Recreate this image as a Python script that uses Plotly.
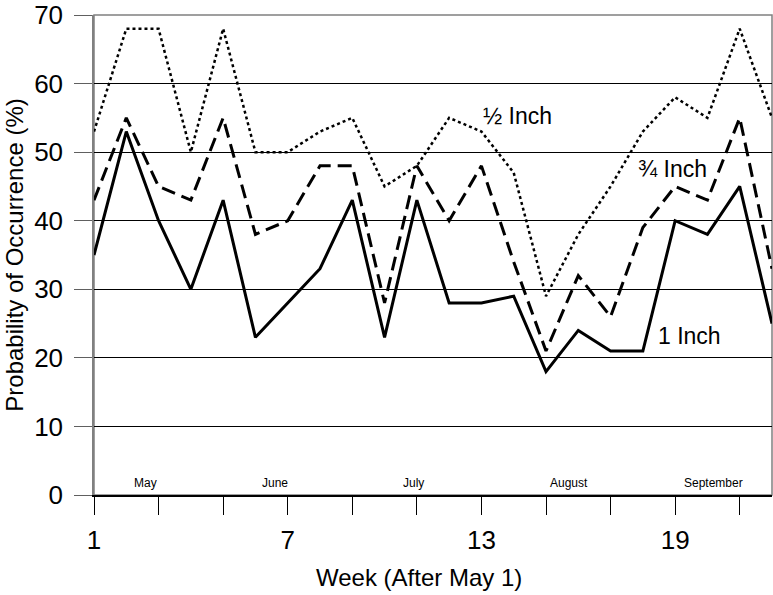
import plotly.graph_objects as go

weeks = list(range(1, 23))
one_inch = [35, 53, 40, 30, 43, 23, 28, 33, 43, 23, 43, 28, 28, 29, 18, 24, 21, 21, 40, 38, 45, 25]
three_quarter_inch = [43, 55, 45, 43, 55, 38, 40, 48, 48, 28, 48, 40, 48, 34, 21, 32, 26, 39, 45, 43, 55, 33]
half_inch = [53, 68, 68, 50, 68, 50, 50, 53, 55, 45, 48, 55, 53, 47, 29, 38, 45, 53, 58, 55, 68, 55]

tick_weeks = [1, 3, 5, 7, 9, 11, 13, 15, 17, 19, 21]
tick_labels = ["1", "", "", "7", "", "", "13", "", "", "19", ""]
y_ticks = [0, 10, 20, 30, 40, 50, 60, 70]

months = ["May", "June", "July", "August", "September"]
month_pos = [2.6, 6.6, 10.9, 15.7, 20.2]

series_labels = ["½ Inch", "¾ Inch", "1 Inch"]
label_x = [13.0, 17.8, 18.4]
label_y = [55.2, 47.6, 23.2]

FONT = "Liberation Sans, Arial, sans-serif"

fig = go.Figure()
fig.add_trace(go.Scatter(x=weeks, y=half_inch, mode="lines", name="½ Inch",
                         line=dict(color="black", width=2.5, dash="3px,3px")))
fig.add_trace(go.Scatter(x=weeks, y=three_quarter_inch, mode="lines", name="¾ Inch",
                         line=dict(color="black", width=3, dash="14px,7px")))
fig.add_trace(go.Scatter(x=weeks, y=one_inch, mode="lines", name="1 Inch",
                         line=dict(color="black", width=3)))

annotations = []
for t, x, y in zip(series_labels, label_x, label_y):
    annotations.append(dict(x=x, y=y, text=t, showarrow=False, xanchor="left", yanchor="middle",
                            font=dict(family=FONT, size=23, color="black")))
for m, x in zip(months, month_pos):
    annotations.append(dict(x=x, y=1.7, text=m, showarrow=False, xanchor="center", yanchor="middle",
                            font=dict(family="Liberation Sans Narrow, Arial Narrow, " + FONT, size=12, color="black")))
annotations.append(dict(x=0.479, y=0, xref="paper", yref="paper", yshift=-82,
                        text="Week (After May 1)", showarrow=False,
                        xanchor="center", yanchor="middle",
                        font=dict(family=FONT, size=24, color="black")))

fig.update_layout(
    width=773, height=595,
    margin=dict(l=94, r=1, t=15, b=100, autoexpand=False),
    paper_bgcolor="white", plot_bgcolor="white",
    showlegend=False,
    font=dict(family=FONT, size=24, color="black"),
    annotations=annotations,
    shapes=[dict(type="rect", xref="paper", yref="paper", x0=0, x1=1, y0=0, y1=1,
                 line=dict(color="#808080", width=1.5), layer="below")],
)
fig.update_xaxes(
    range=[1, 22], tickmode="array", tickvals=tick_weeks, ticktext=tick_labels,
    ticks="outside", ticklen=18, tickcolor="black", tickwidth=1,
    showline=True, linecolor="black", linewidth=1.5, showgrid=False, zeroline=False,
    tickfont=dict(size=26), ticklabelstandoff=3, automargin=False,
)
fig.update_yaxes(
    range=[0, 70], tickmode="array", tickvals=y_ticks,
    ticks="outside", ticklen=18, tickcolor="#606060", tickwidth=1,
    showline=True, linecolor="#808080", linewidth=1.5, mirror=False,
    showgrid=True, gridcolor="black", gridwidth=1, zeroline=False,
    tickfont=dict(size=26), ticklabelstandoff=6, automargin=False,
    title=dict(text="Probability of Occurrence (%)", font=dict(size=24), standoff=4),
)

fig.write_html("out.html", config={"displayModeBar": False},
               post_script="document.body.style.margin='0';")
